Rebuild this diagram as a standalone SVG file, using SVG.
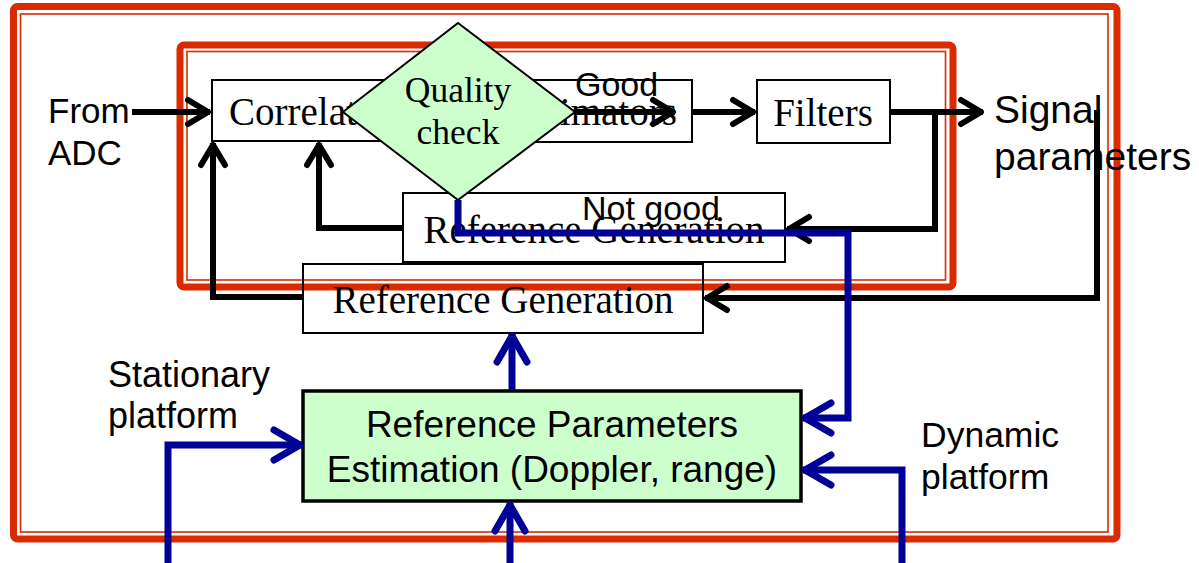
<svg xmlns="http://www.w3.org/2000/svg" width="1199" height="563" viewBox="0 0 1199 563">
<style>
.thick{fill:none;stroke:#DA2A00;stroke-width:7}
.thin{fill:none;stroke:#DA2A00;stroke-width:1.6}
.box{fill:#fff;stroke:#000;stroke-width:2}
.serif{font-family:"Liberation Serif","Times New Roman",serif;font-size:39px;fill:#000}
.sans{font-family:"Liberation Sans",Arial,sans-serif;font-size:35px;fill:#000}
.blk{fill:none;stroke:#000;stroke-width:6;stroke-linejoin:miter}
.blu{fill:none;stroke:#000096;stroke-width:7;stroke-linejoin:miter}
</style>
<defs>
<marker id="ab" markerUnits="userSpaceOnUse" markerWidth="60" markerHeight="60" viewBox="-40 -30 60 60" refX="0" refY="0" orient="auto">
<path d="M-22,-12 L-2,0 L-22,12" fill="none" stroke="#000" stroke-width="6" stroke-linecap="round" stroke-linejoin="round"/>
</marker>
<marker id="au" markerUnits="userSpaceOnUse" markerWidth="70" markerHeight="70" viewBox="-50 -35 70 70" refX="0" refY="0" orient="auto">
<path d="M-28,-15 L-2,0 L-28,15" fill="none" stroke="#000096" stroke-width="7" stroke-linecap="round" stroke-linejoin="round"/>
</marker>
</defs>
<rect width="1199" height="563" fill="#fff"/>
<g id="frames">
<rect class="thick" x="13.5" y="6.5" width="1103.5" height="532.5" rx="4"/>
<rect class="thin" x="20.5" y="14" width="1087.5" height="518"/>
<rect class="thick" x="180" y="45" width="773" height="242" rx="4"/>
<rect class="thin" x="187" y="51.5" width="758.5" height="228.5"/>
</g>
<g id="correlator">
<rect class="box" x="212" y="80" width="190" height="61"/>
<text class="serif" x="229" y="125">Correlator</text>
</g>
<g id="estimators">
<rect class="box" x="505" y="80" width="187" height="62"/>
<text class="serif" x="510" y="125">Estimators</text>
</g>
<g id="filters">
<rect class="box" x="757" y="80" width="133" height="63"/>
<text class="serif" x="823" y="126" text-anchor="middle">Filters</text>
</g>
<g id="refgen-inner">
<rect class="box" x="403" y="193" width="382" height="69"/>
<text class="serif" x="594" y="243" text-anchor="middle">Reference Generation</text>
</g>
<g id="refgen-outer">
<rect x="303" y="264" width="400" height="69" fill="none" stroke="#000" stroke-width="2"/>
<text class="serif" x="503" y="313" text-anchor="middle">Reference Generation</text>
</g>
<g id="estimation">
<rect x="303" y="391" width="498" height="110" fill="#CCFFCC" stroke="#000" stroke-width="3.5"/>
<text class="sans" x="552" y="437" text-anchor="middle" style="font-size:37px">Reference Parameters</text>
<text class="sans" x="552" y="482" text-anchor="middle" style="font-size:37px">Estimation (Doppler, range)</text>
</g>
<g id="quality">
<polygon points="458,23 575,112 458,200 343,112" fill="#CCFFCC" stroke="#000" stroke-width="2"/>
<text class="serif" x="458" y="102" text-anchor="middle" style="font-size:35.5px">Quality</text>
<text class="serif" x="458" y="144" text-anchor="middle" style="font-size:35.5px">check</text>
</g>
<g id="labels">
<text class="sans" x="48" y="123">From</text>
<text class="sans" x="48" y="165">ADC</text>
<text class="sans" x="994" y="123" style="font-size:39px">Signal</text>
<text class="sans" x="994" y="170" style="font-size:39px">parameters</text>
<text class="sans" x="108" y="387" style="font-size:36px">Stationary</text>
<text class="sans" x="108" y="428" style="font-size:36px">platform</text>
<text class="sans" x="921" y="447" style="font-size:35.5px">Dynamic</text>
<text class="sans" x="921" y="489" style="font-size:35.5px">platform</text>
</g>
<g id="connectors">
<path class="blk" d="M132,112 H210" marker-end="url(#ab)"/>
<path class="blk" d="M575,112 H675" stroke-width="4" marker-end="url(#ab)"/>
<path class="blk" d="M692,112 H755" marker-end="url(#ab)"/>
<path class="blk" d="M890,112 H983" marker-end="url(#ab)"/>
<path class="blk" d="M935,109 V229 H787" marker-end="url(#ab)"/>
<path class="blk" d="M403,228 H319 V143" marker-end="url(#ab)"/>
<path class="blk" d="M303,297 H213 V143" marker-end="url(#ab)"/>
<path class="blk" d="M1097,110 V298 H705" marker-end="url(#ab)"/>
<path class="blu" d="M458,200 V233 H848 V418 H803" marker-end="url(#au)"/>
<path class="blu" d="M512,390 V334" marker-end="url(#au)"/>
<path class="blu" d="M510,563 V503" marker-end="url(#au)"/>
<path class="blu" d="M168,563 V445 H302" marker-end="url(#au)"/>
<path class="blu" d="M902,563 V470 H803" marker-end="url(#au)"/>
</g>
<g id="edge-labels">
<text class="sans" x="575" y="96" style="font-size:34px">Good</text>
<text class="sans" x="582" y="220" style="font-size:34px">Not good</text>
</g>
</svg>
